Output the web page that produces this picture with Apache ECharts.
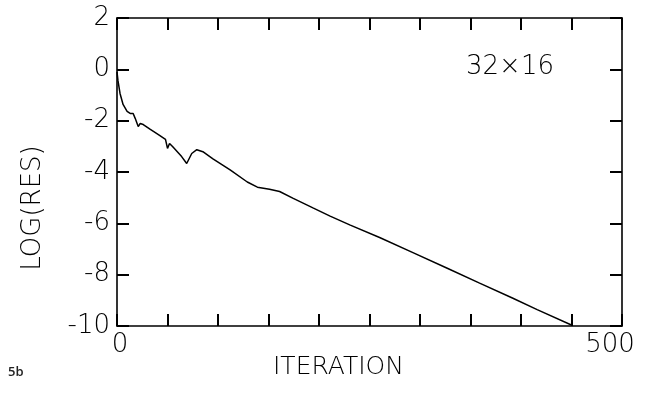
<!DOCTYPE html>
<html><head><meta charset="utf-8">
<script src="https://cdn.jsdelivr.net/npm/echarts@6/dist/echarts.min.js"></script>
<style>html,body{margin:0;padding:0;background:#fff}#c{width:650px;height:395px}</style>
</head><body><div id="c"></div>
<script>
const iterations = [0, 1, 3, 6, 10, 13, 16, 18, 21, 23, 26, 33, 41, 48, 50, 52, 55, 64, 69, 74, 79, 85, 95, 112, 129, 139, 151, 161, 174, 194, 211, 231, 260, 293, 327, 359, 392, 416, 451];
const logRes = [-0.1, -0.45, -0.94, -1.37, -1.64, -1.72, -1.72, -1.91, -2.23, -2.11, -2.15, -2.34, -2.54, -2.73, -3.08, -2.89, -3.01, -3.40, -3.67, -3.28, -3.13, -3.21, -3.49, -3.92, -4.39, -4.59, -4.67, -4.76, -5.02, -5.40, -5.72, -6.07, -6.55, -7.14, -7.75, -8.33, -8.92, -9.36, -9.98];
const xShownLabels = [0, 500];
const yTicks = [2, 0, -2, -4, -6, -8, -10];
const xTitle = 'ITERATION';
const yTitle = 'LOG(RES)';
const gridSizeLabel = '32×16';
const figLabel = '5b';

const font = 'DejaVu Sans';
const axisLine = {show: true, onZero: false, lineStyle: {color: '#000', width: 1.6}};
const tick = {show: true, inside: true, length: 12, lineStyle: {color: '#000', width: 2}};

const chart = echarts.init(document.getElementById('c'), null, {renderer: 'canvas'});
chart.setOption({
  animation: false,
  backgroundColor: '#fff',
  grid: {left: 117, right: 28, top: 18, bottom: 69, containLabel: false},
  xAxis: [{
    type: 'value', min: 0, max: 500, interval: 50, position: 'bottom',
    axisLine: axisLine, axisTick: tick, splitLine: {show: false},
    axisLabel: {
      margin: 6, fontSize: 26, fontFamily: font, fontWeight: 200, color: '#000',
      showMaxLabel: true, showMinLabel: true,
      formatter: v => xShownLabels.includes(v) ? (v === 500 ? '{r|' + v + '}' : '{l|' + v + '}') : '',
      rich: {
        r: {fontSize: 26, fontFamily: font, fontWeight: 200, color: '#000', padding: [0, 24, 0, 0]},
        l: {fontSize: 26, fontFamily: font, fontWeight: 200, color: '#000', padding: [0, 0, 0, 6]}
      }
    }
  }, {
    type: 'value', min: 0, max: 500, interval: 50, position: 'top',
    axisLine: axisLine, axisTick: tick, axisLabel: {show: false}, splitLine: {show: false}
  }],
  yAxis: [{
    type: 'value', min: -10, max: 2, interval: 2, position: 'left',
    axisLine: axisLine, axisTick: tick, splitLine: {show: false},
    axisLabel: {
      margin: 7, fontSize: 26, fontFamily: font, fontWeight: 200, color: '#000',
      formatter: v => yTicks.includes(v) ? String(v) : ''
    }
  }, {
    type: 'value', min: -10, max: 2, interval: 2, position: 'right',
    axisLine: axisLine, axisTick: tick, axisLabel: {show: false}, splitLine: {show: false}
  }],
  series: [{
    type: 'line',
    data: iterations.map((it, i) => [it, logRes[i]]),
    showSymbol: false, smooth: false,
    lineStyle: {color: '#000', width: 1.5},
    clip: true
  }],
  graphic: [
    {type: 'text', left: 273, top: 355, style: {text: xTitle, font: '200 25px "DejaVu Sans"', fill: '#000'}},
    {type: 'text', x: 33, y: 208, rotation: Math.PI / 2, style: {text: yTitle, font: '200 26px "DejaVu Sans"', fill: '#000', align: 'center', verticalAlign: 'middle'}},
    {type: 'text', x: 510, y: 67, style: {text: gridSizeLabel, font: '200 26px "DejaVu Sans"', fill: '#000', align: 'center', verticalAlign: 'middle'}},
    {type: 'text', left: 8, top: 366, style: {text: figLabel, font: '600 13px "Open Sans"', fill: '#222'}}
  ]
});
</script>
</body></html>
